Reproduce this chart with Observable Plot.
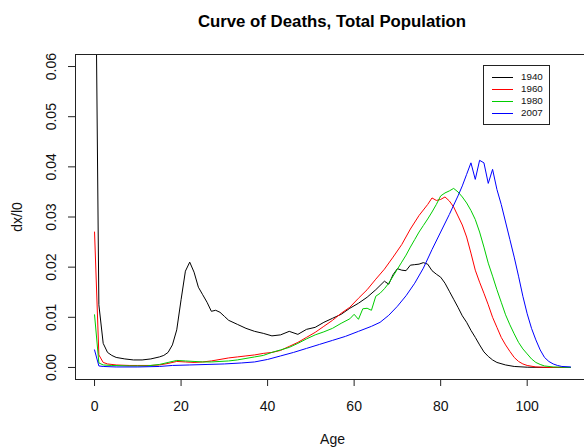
<!DOCTYPE html>
<html>
<head>
<meta charset="utf-8">
<script src="https://cdn.jsdelivr.net/npm/d3@7"></script>
<script src="https://cdn.jsdelivr.net/npm/@observablehq/plot@0.6"></script>
<style>
  html, body { margin: 0; padding: 0; background: white; overflow: hidden; }
  #wrap { position: relative; width: 589px; height: 447px; }
  #title { width: 514px; padding-left: 75px; height: 40px; box-sizing: content-box;
    font-family: "Liberation Sans", Arial, sans-serif; font-weight: bold; font-size: 16.8px;
    line-height: 20px; padding-top: 0; text-align: center; }
  #title span { display: block; padding-top: 12px; }
  #chart { width: 589px; }
  #legend { position: absolute; left: 483px; top: 65px; width: 65px; height: 58px;
    border: 1px solid #222; background: white;
    font-family: "Liberation Sans", Arial, sans-serif; font-size: 9.8px; color: #111; }
  .lrow { position: absolute; left: 0; height: 12px; width: 65px; }
  .ltext { position: absolute; left: 37px; top: 0; line-height: 12px; }
</style>
</head>
<body>
<div id="wrap">
<div id="title"><span>Curve of Deaths, Total Population</span></div>
<div id="chart"></div>
<div id="legend"></div>
</div>
<script>
const title = "Curve of Deaths, Total Population";
const xLabel = "Age";
const yLabel = "dx/l0";
const years = ["1940", "1960", "1980", "2007"];
const colors = ["#000000", "#FF0000", "#00CD00", "#0000FF"];
const xTicks = [0, 20, 40, 60, 80, 100];
const yTicks = [0, 0.01, 0.02, 0.03, 0.04, 0.05, 0.06];

const ages1940 = [0,1,2,3,4,5,7,9,11,13,15,16,17,18,19,20,21,22,23,24,25,26,27,28,29,30,31,33,35,37,39,41,43,45,47,49,51,53,55,57,59,61,63,65,67,68,69,70,71,72,73,74,75,76,77,78,79,80,81,82,83,84,85,86,87,88,89,90,91,92,93,95,97,100,105,110];
const dx1940 = [0.105,0.0125,0.0048,0.003,0.0024,0.002,0.0017,0.0015,0.0015,0.0017,0.0021,0.0024,0.003,0.0045,0.0075,0.0135,0.0192,0.021,0.019,0.016,0.0145,0.013,0.0112,0.0114,0.011,0.0102,0.0094,0.0086,0.0078,0.0072,0.0068,0.0063,0.0065,0.0072,0.0066,0.0076,0.008,0.009,0.0098,0.0106,0.0118,0.0128,0.014,0.0155,0.0172,0.0166,0.0185,0.0197,0.0194,0.0193,0.0204,0.0205,0.0206,0.0209,0.0206,0.0193,0.0186,0.018,0.0168,0.0152,0.0136,0.012,0.0103,0.009,0.0074,0.006,0.0045,0.0031,0.0022,0.0015,0.001,0.0005,0.0002,0.00005,0,0];

const ages1960 = [0,1,2,3,5,8,10,13,15,17,19,21,23,25,27,29,31,33,35,37,39,41,43,45,47,49,51,53,55,57,59,61,63,65,67,69,71,73,75,77,78,79,80,81,82,83,84,85,86,87,88,89,90,91,92,93,94,95,96,97,98,99,100,102,105,110];
const dx1960 = [0.027,0.0025,0.001,0.0007,0.0005,0.0004,0.0004,0.0004,0.0005,0.0008,0.0012,0.0011,0.001,0.0011,0.0013,0.0016,0.0019,0.0021,0.0023,0.0025,0.0028,0.003,0.0034,0.0042,0.005,0.006,0.007,0.0082,0.0094,0.0108,0.012,0.0138,0.0155,0.0176,0.0196,0.022,0.0245,0.0276,0.0303,0.0325,0.0338,0.0333,0.0335,0.034,0.0332,0.032,0.0302,0.0284,0.026,0.0228,0.0194,0.017,0.0148,0.0125,0.01,0.008,0.006,0.0045,0.0032,0.002,0.0012,0.0007,0.0004,0.0001,0,0];

const ages1980 = [0,1,2,4,8,12,15,17,19,21,23,25,27,29,31,33,35,37,39,41,43,45,47,49,51,53,55,57,59,60,61,62,63,64,65,66,67,68,69,70,71,72,73,74,75,76,77,78,79,80,81,82,83,84,85,86,87,88,89,90,91,92,93,94,95,96,97,98,99,100,101,102,103,104,106,110];
const dx1980 = [0.0105,0.0009,0.0005,0.0004,0.0003,0.0003,0.0006,0.001,0.0014,0.0013,0.0012,0.0011,0.0011,0.0012,0.0013,0.0015,0.0018,0.0021,0.0024,0.003,0.0035,0.004,0.0048,0.0057,0.0065,0.0071,0.0078,0.0088,0.0097,0.0106,0.0096,0.0117,0.0118,0.0114,0.0142,0.0148,0.0157,0.0168,0.0182,0.0196,0.021,0.0224,0.024,0.0255,0.027,0.0283,0.0296,0.031,0.0325,0.0342,0.0348,0.0352,0.0357,0.035,0.034,0.0328,0.0313,0.0295,0.027,0.024,0.0208,0.0182,0.0155,0.013,0.0105,0.0085,0.0067,0.005,0.0037,0.0027,0.0017,0.001,0.0006,0.0003,0.0001,0];

const ages2007 = [0,1,2,5,10,15,18,22,26,30,34,37,40,43,46,49,52,55,58,61,64,66,68,70,72,74,76,78,80,82,84,85,86,87,88,89,90,91,92,93,94,95,96,97,98,99,100,101,102,103,104,105,106,107,108,110];
const dx2007 = [0.0035,0.0003,0.0002,0.0001,0.0001,0.0002,0.0004,0.0005,0.0006,0.0007,0.0009,0.0011,0.0016,0.0023,0.003,0.0038,0.0046,0.0054,0.0062,0.0072,0.0082,0.009,0.0104,0.0122,0.0143,0.0168,0.0198,0.0235,0.027,0.0305,0.0342,0.0362,0.0385,0.0408,0.0375,0.0413,0.0408,0.0367,0.0395,0.0355,0.0325,0.029,0.0255,0.022,0.0182,0.0142,0.0107,0.0078,0.0055,0.0035,0.002,0.0012,0.0007,0.0004,0.0002,0.0001];

const seriesAges = [ages1940, ages1960, ages1980, ages2007];
const seriesDx = [dx1940, dx1960, dx1980, dx2007];
const rows = [];
years.forEach((yr, i) => {
  seriesAges[i].forEach((a, j) => rows.push({year: yr, age: a, dx: seriesDx[i][j]}));
});

const font = "Liberation Sans, Arial, sans-serif";
const axisColor = "#222";

const plot = Plot.plot({
  width: 589,
  height: 407,
  marginLeft: 75,
  marginRight: 0,
  marginTop: 14,
  marginBottom: 68,
  x: {domain: [-4.4, 114.4], axis: null},
  y: {domain: [-0.0024, 0.0624], axis: null},
  color: {domain: years, range: colors},
  style: {fontFamily: font, fontSize: "14px", background: "white", color: "#111"},
  marks: [
    Plot.line(rows, {x: "age", y: "dx", z: "year", stroke: "year", strokeWidth: 1, clip: true}),
    Plot.frame({stroke: axisColor}),
    Plot.axisX(xTicks, {anchor: "bottom", tickSize: 7, tickFormat: () => "", label: null, stroke: axisColor}),
    Plot.axisY(yTicks, {anchor: "left", tickSize: 7, tickFormat: () => "", label: null, stroke: axisColor}),
    Plot.text(xTicks, {x: d => d, text: d => String(d), frameAnchor: "bottom", dy: 27, lineAnchor: "middle", fontSize: 14, fill: "#111"}),
    Plot.text(yTicks, {y: d => d, text: d => d.toFixed(2), frameAnchor: "left", dx: -24, rotate: -90, textAnchor: "middle", lineAnchor: "middle", fontSize: 14, fill: "#111"}),
    Plot.text([xLabel], {text: d => d, frameAnchor: "bottom", dy: 60, lineAnchor: "middle", fontSize: 14, fill: "#111"}),
    Plot.text([yLabel], {text: d => d, frameAnchor: "left", dx: -58, rotate: -90, textAnchor: "middle", lineAnchor: "middle", fontSize: 14, fill: "#111"})
  ]
});
document.getElementById("chart").appendChild(plot);

// legend box (HTML overlay, top-right of the plot area)
const legend = d3.select("#legend");
years.forEach((yr, i) => {
  const row = legend.append("div").attr("class", "lrow").style("top", (5 + i * 12) + "px");
  row.append("div")
    .style("position", "absolute").style("left", "8px").style("top", "6px")
    .style("width", "21px").style("height", "0px")
    .style("border-top", "1.5px solid " + colors[i]);
  row.append("div").attr("class", "ltext").text(yr);
});
</script>
</body>
</html>
